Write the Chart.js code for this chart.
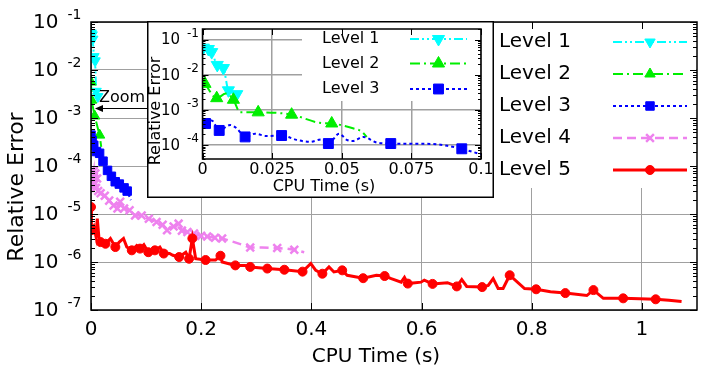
<!DOCTYPE html>
<html>
<head>
<meta charset="utf-8">
<script src="https://cdn.jsdelivr.net/npm/chart.js@4/dist/chart.umd.min.js"></script>
<style>
  html, body { margin: 0; padding: 0; background: #fff; }
  #wrap { position: relative; width: 705px; height: 376px; overflow: hidden; }
  #main { position: absolute; left: 0; top: 0; }
  #zoom { position: absolute; left: 147px; top: 21px; }
</style>
</head>
<body>
<div id="wrap">
  <canvas id="main" width="705" height="376" style="width:705px;height:376px"></canvas>
  <canvas id="zoom" width="347" height="177" style="width:347px;height:177px"></canvas>
</div>
<script>
// ---------- axes ----------
const xTickValues = [0, 0.2, 0.4, 0.6, 0.8, 1];
const xTickLabels = ['0', '0.2', '0.4', '0.6', '0.8', '1'];
const yTickExponents = [-7, -6, -5, -4, -3, -2, -1];
const zoomXTickValues = [0, 0.025, 0.05, 0.075, 0.1];
const zoomXTickLabels = ['0', '0.025', '0.05', '0.075', '0.1'];
const zoomYTickExponents = [-4, -3, -2, -1];
const seriesNames = ['Level 1', 'Level 2', 'Level 3', 'Level 4', 'Level 5'];

// ---------- series (CPU time in s, relative error) ----------
const level1Time = [0.0003, 0.0021, 0.0033, 0.0053, 0.0075, 0.0093, 0.0123];
const level1Err  = [0.059, 0.054, 0.044, 0.019, 0.0155, 0.0036, 0.0028];

const level2Time = [0.0, 0.001, 0.0066, 0.0156, 0.0186];
const level2Err  = [5.6e-3, 2.35e-3, 1.1e-3, 4.4e-4, 2.5e-4];
const level2Symbols = [0, 1, 2, 3];

const level3Time = [0.0, 0.002, 0.005, 0.010, 0.0156, 0.0218, 0.030, 0.037, 0.044, 0.0514, 0.060, 0.0657, 0.0723];
const level3Err  = [4.4e-4, 3.4e-4, 2.7e-4, 2.0e-4, 1.84e-4, 1.26e-4, 8.1e-5, 6.1e-5, 4.7e-5, 4.2e-5, 3.5e-5, 3.0e-5, 1.95e-5];
const level3Symbols = [0, 1, 2, 3, 4, 5, 6, 7, 8, 9, 10, 11];

const level4Time = [0.000, 0.003, 0.005, 0.006, 0.008, 0.009, 0.011, 0.013, 0.0174, 0.025, 0.033, 0.041, 0.048, 0.053, 0.060, 0.070, 0.080, 0.092, 0.105, 0.119, 0.130, 0.138, 0.150, 0.159, 0.165, 0.175, 0.187, 0.200, 0.211, 0.225, 0.238, 0.260, 0.289, 0.310, 0.338, 0.355, 0.369, 0.387];
const level4Err  = [3.8e-5, 6.0e-5, 8.0e-5, 4.5e-5, 7.0e-5, 3.5e-5, 5.5e-5, 3.0e-5, 2.7e-5, 2.4e-5, 1.9e-5, 1.5e-5, 1.3e-5, 1.8e-5, 1.3e-5, 1.2e-5, 9.3e-6, 9.3e-6, 8.0e-6, 6.8e-6, 6.0e-6, 4.6e-6, 5.5e-6, 6.3e-6, 4.5e-6, 4.2e-6, 3.9e-6, 3.5e-6, 3.4e-6, 3.2e-6, 3.1e-6, 2.6e-6, 2.0e-6, 2.0e-6, 1.95e-6, 1.9e-6, 1.8e-6, 1.6e-6];
const level4Symbols = [0, 1, 2, 3, 4, 5, 6, 7, 8, 9, 10, 11, 12, 13, 14, 15, 16, 17, 18, 19, 20, 21, 22, 23, 24, 25, 26, 27, 28, 29, 30, 32, 34, 36];

const level5Time = [0.000, 0.0008, 0.005, 0.009, 0.0114, 0.0143, 0.0174, 0.0263, 0.0352, 0.0442, 0.0513, 0.059, 0.065, 0.074, 0.083, 0.089, 0.096, 0.104, 0.116, 0.125, 0.132, 0.1426, 0.1485, 0.160, 0.172, 0.178, 0.184, 0.190, 0.208, 0.226, 0.235, 0.238, 0.262, 0.280, 0.289, 0.320, 0.351, 0.384, 0.399, 0.408, 0.420, 0.432, 0.441, 0.456, 0.465, 0.494, 0.518, 0.533, 0.545, 0.563, 0.569, 0.575, 0.599, 0.605, 0.620, 0.647, 0.664, 0.673, 0.682, 0.710, 0.721, 0.730, 0.739, 0.748, 0.760, 0.787, 0.808, 0.834, 0.861, 0.900, 0.912, 0.930, 0.966, 1.025, 1.049, 1.072];
const level5Err  = [1.4e-5, 4.6e-6, 5.5e-6, 3.4e-6, 8.0e-6, 3.3e-6, 2.6e-6, 2.4e-6, 3.1e-6, 2.05e-6, 2.6e-6, 3.1e-6, 2.05e-6, 1.75e-6, 2.2e-6, 1.9e-6, 2.3e-6, 1.6e-6, 1.75e-6, 2.05e-6, 1.5e-6, 1.5e-6, 1.38e-6, 1.27e-6, 1.6e-6, 1.17e-6, 3.1e-6, 1.17e-6, 1.1e-6, 1.1e-6, 1.35e-6, 1.0e-6, 8.5e-7, 8.5e-7, 7.9e-7, 7.3e-7, 6.9e-7, 6.3e-7, 9.3e-7, 6.7e-7, 5.7e-7, 7.9e-7, 6.2e-7, 6.7e-7, 5.3e-7, 4.6e-7, 5.3e-7, 5.1e-7, 4.5e-7, 3.8e-7, 4.8e-7, 3.55e-7, 3.8e-7, 4.2e-7, 3.5e-7, 3.7e-7, 3.1e-7, 4.3e-7, 3.1e-7, 3.0e-7, 3.25e-7, 4.5e-7, 2.8e-7, 2.8e-7, 5.3e-7, 2.8e-7, 2.7e-7, 2.4e-7, 2.25e-7, 2.0e-7, 2.6e-7, 1.75e-7, 1.75e-7, 1.67e-7, 1.6e-7, 1.5e-7];
const level5Symbols = [0, 1, 6, 7, 9, 13, 15, 17, 18, 20, 23, 25, 26, 28, 30, 32, 34, 35, 36, 37, 40, 43, 45, 47, 51, 54, 56, 59, 64, 66, 68, 70, 72, 73];

// first 0.1 s, shown in the zoom panel
const zoomLevel2Time = [0.0009, 0.0051, 0.0084, 0.0111, 0.0135, 0.020, 0.032, 0.042, 0.0464, 0.054, 0.057, 0.059];
const zoomLevel2Err  = [5.5e-3, 2.15e-3, 2.9e-3, 1.94e-3, 8.5e-4, 8.5e-4, 7.3e-4, 4.3e-4, 4.1e-4, 3.0e-4, 2.45e-4, 1.7e-4];
const zoomLevel2Symbols = [0, 1, 3, 5, 6, 8];

const zoomLevel3Time = [0.0011, 0.0033, 0.006, 0.0099, 0.0123, 0.0153, 0.0189, 0.023, 0.0284, 0.0338, 0.0386, 0.0428, 0.0452, 0.0491, 0.0518, 0.0541, 0.0577, 0.0625, 0.0676, 0.0829, 0.0889, 0.0931, 0.0972, 0.1005];
const zoomLevel3Err  = [4.1e-4, 5.0e-4, 2.6e-4, 3.7e-4, 3.0e-4, 1.7e-4, 2.1e-4, 1.8e-4, 1.86e-4, 1.4e-4, 1.23e-4, 1.45e-4, 1.1e-4, 2.1e-4, 1.4e-4, 1.3e-4, 1.7e-4, 1.18e-4, 1.1e-4, 1.07e-4, 9.2e-5, 7.8e-5, 6.3e-5, 5.3e-5];
const zoomLevel3Symbols = [0, 2, 5, 8, 12, 18, 21];

// ---------- look ----------
const FONT = '"DejaVu Sans", "Liberation Sans", sans-serif';
const GRID = '#a0a0a0';
const styles = [
  { color: '#00ffff', dash: [9, 3, 2, 3, 2, 3], shape: 'triangle', rotation: 180, width: 2,   radius: 6,   pointBorder: 1 },
  { color: '#00ee00', dash: [10, 4, 2, 4],      shape: 'triangle', rotation: 0,   width: 2,   radius: 6,   pointBorder: 1 },
  { color: '#0000ff', dash: [3, 3],             shape: 'rect',     rotation: 0,   width: 2,   radius: 6,   pointBorder: 1 },
  { color: '#ee82ee', dash: [9, 5],             shape: 'crossRot', rotation: 0,   width: 2.5, radius: 5.5, pointBorder: 2.5 },
  { color: '#ff0000', dash: [],                 shape: 'circle',   rotation: 0,   width: 3,   radius: 4.5, pointBorder: 1 }
];

function points(time, err) { return time.map((t, i) => ({ x: t, y: err[i] })); }

function dataset(level, time, err, symbols, extra) {
  const st = styles[level];
  return Object.assign({
    label: seriesNames[level],
    data: points(time, err),
    order: 5 - level,
    borderColor: st.color,
    backgroundColor: st.color,
    borderWidth: st.width,
    borderDash: st.dash,
    pointStyle: st.shape,
    pointRotation: st.rotation,
    pointRadius: c => (symbols === null || symbols.includes(c.dataIndex)) ? st.radius : 0,
    pointBorderWidth: st.pointBorder,
    pointHoverRadius: 0,
    tension: 0,
    fill: false
  }, extra || {});
}

function drawMarker(ctx, st, x, y, r) {
  ctx.save();
  ctx.setLineDash([]);
  ctx.fillStyle = st.color;
  ctx.strokeStyle = st.color;
  ctx.lineWidth = st.pointBorder;
  ctx.beginPath();
  if (st.shape === 'circle') {
    ctx.arc(x, y, r, 0, Math.PI * 2);
    ctx.fill(); ctx.stroke();
  } else if (st.shape === 'rect') {
    const s = r * Math.SQRT1_2;
    ctx.rect(x - s, y - s, 2 * s, 2 * s);
    ctx.fill(); ctx.stroke();
  } else if (st.shape === 'triangle') {
    let a = st.rotation * Math.PI / 180;
    for (let k = 0; k < 3; k++) {
      const px = x + Math.sin(a) * r, py = y - Math.cos(a) * r;
      if (k) ctx.lineTo(px, py); else ctx.moveTo(px, py);
      a += 2 * Math.PI / 3;
    }
    ctx.closePath();
    ctx.fill(); ctx.stroke();
  } else if (st.shape === 'crossRot') {
    const d = r * Math.SQRT1_2;
    ctx.moveTo(x - d, y - d); ctx.lineTo(x + d, y + d);
    ctx.moveTo(x + d, y - d); ctx.lineTo(x - d, y + d);
    ctx.stroke();
  }
  ctx.restore();
}

function drawKeyEntry(ctx, level, textX, x0, x1, y, fontPx, r) {
  const st = styles[level];
  ctx.save();
  ctx.fillStyle = '#000';
  ctx.font = fontPx + 'px ' + FONT;
  ctx.textAlign = 'left';
  ctx.textBaseline = 'middle';
  ctx.fillText(seriesNames[level], textX, y);
  ctx.strokeStyle = st.color;
  ctx.lineWidth = st.width;
  ctx.setLineDash(st.dash);
  ctx.beginPath(); ctx.moveTo(x0, y); ctx.lineTo(x1, y); ctx.stroke();
  ctx.restore();
  drawMarker(ctx, st, (x0 + x1) / 2, y, r);
}

function powerLabel(ctx, x, y, exp, bigPx, smallPx, gap, lift) {
  ctx.save();
  ctx.fillStyle = '#000';
  ctx.textBaseline = 'middle';
  ctx.font = bigPx + 'px ' + FONT;
  ctx.textAlign = 'right';
  ctx.fillText('10', x, y);
  ctx.font = smallPx + 'px ' + FONT;
  ctx.textAlign = 'left';
  ctx.fillText(String(exp), x + gap, y - lift);
  ctx.restore();
}

function frameAndTicks(ctx, a, xs, ys, xVals, yExps, majorLen, minorLen) {
  ctx.save();
  ctx.strokeStyle = '#000';
  ctx.lineWidth = 1;
  ctx.beginPath();
  xVals.forEach(v => {
    const px = Math.round(xs.getPixelForValue(v)) + 0.5;
    ctx.moveTo(px, a.bottom); ctx.lineTo(px, a.bottom - majorLen);
    ctx.moveTo(px, a.top); ctx.lineTo(px, a.top + majorLen);
  });
  yExps.forEach(e => {
    for (let k = 1; k <= 9; k++) {
      const v = k * Math.pow(10, e);
      if (v < ys.min * 0.999 || v > ys.max * 1.001) continue;
      const py = Math.round(ys.getPixelForValue(v)) + 0.5;
      const len = k === 1 ? majorLen : minorLen;
      ctx.moveTo(a.left, py); ctx.lineTo(a.left + len, py);
      ctx.moveTo(a.right, py); ctx.lineTo(a.right - len, py);
    }
  });
  ctx.stroke();
  ctx.lineWidth = 1.5;
  ctx.strokeRect(a.left, a.top, a.right - a.left, a.bottom - a.top);
  ctx.restore();
}

// ---------- full run ----------
const mainDecor = {
  id: 'mainDecor',
  afterDatasetsDraw(chart) {
    const { ctx, chartArea: a, scales: { x, y } } = chart;
    // key, on an opaque box
    ctx.save();
    ctx.fillStyle = '#fff';
    ctx.fillRect(494, a.top + 1, a.right - 495, 187 - a.top);
    ctx.restore();
    const keyY = [42, 74, 106, 138, 170];
    keyY.forEach((ky, i) => drawKeyEntry(ctx, i, 499, 613, 687, ky, 20, styles[i].radius));
    frameAndTicks(ctx, a, x, y, xTickValues, [-7, -6, -5, -4, -3, -2, -1], 7, 4);
  },
  afterDraw(chart) {
    const { ctx, chartArea: a, scales: { x, y } } = chart;
    ctx.save();
    yTickExponents.forEach(e => powerLabel(ctx, a.left - 32.5, y.getPixelForValue(Math.pow(10, e)) + 1, e, 20, 14, 9, 8));
    ctx.fillStyle = '#000';
    ctx.font = '20px ' + FONT;
    ctx.textAlign = 'center';
    ctx.textBaseline = 'middle';
    xTickValues.forEach((v, i) => ctx.fillText(xTickLabels[i], x.getPixelForValue(v), 330));
    ctx.fillText('CPU Time (s)', 376, 357);
    ctx.save();
    ctx.font = '22px ' + FONT;
    ctx.translate(17.5, 187);
    ctx.rotate(-Math.PI / 2);
    ctx.fillText('Relative Error', 0, 0);
    ctx.restore();
    // pointer to the zoomed panel
    ctx.font = '16px ' + FONT;
    ctx.textAlign = 'left';
    ctx.fillText('Zoom', 99, 98);
    ctx.strokeStyle = '#000';
    ctx.lineWidth = 1.2;
    ctx.beginPath(); ctx.moveTo(148, 108.5); ctx.lineTo(100, 108.5); ctx.stroke();
    ctx.beginPath(); ctx.moveTo(95, 108.5); ctx.lineTo(103, 105); ctx.lineTo(103, 112); ctx.closePath(); ctx.fill();
    ctx.restore();
  }
};

new Chart(document.getElementById('main'), {
  type: 'line',
  data: {
    datasets: [
      dataset(0, level1Time, level1Err, null),
      dataset(1, level2Time, level2Err, level2Symbols),
      dataset(2, level3Time, level3Err, level3Symbols),
      dataset(3, level4Time, level4Err, level4Symbols),
      dataset(4, level5Time, level5Err, level5Symbols)
    ]
  },
  options: {
    responsive: false,
    animation: false,
    events: [],
    layout: { padding: { left: 91, right: 1, top: 22, bottom: 66 } },
    plugins: { legend: { display: false }, tooltip: { enabled: false } },
    scales: {
      x: {
        type: 'linear', min: 0, max: 1.1,
        afterBuildTicks: s => { s.ticks = xTickValues.map(v => ({ value: v })); },
        ticks: { display: false },
        grid: { color: GRID, lineWidth: 1, drawTicks: false },
        border: { display: false }
      },
      y: {
        type: 'logarithmic', min: 1e-7, max: 1e-1,
        afterBuildTicks: s => { s.ticks = yTickExponents.map(e => ({ value: Math.pow(10, e) })); },
        ticks: { display: false },
        grid: { color: GRID, lineWidth: 1, drawTicks: false },
        border: { display: false }
      }
    }
  },
  plugins: [mainDecor]
});

// ---------- zoom panel ----------
const zoomDecor = {
  id: 'zoomDecor',
  beforeDraw(chart) {
    const { ctx, width, height } = chart;
    ctx.save();
    ctx.fillStyle = '#fff';
    ctx.fillRect(0, 0, width, height);
    ctx.restore();
  },
  afterDatasetsDraw(chart) {
    const { ctx, chartArea: a, scales: { x, y } } = chart;
    ctx.save();
    ctx.fillStyle = '#fff';
    ctx.fillRect(155, a.top + 1, a.right - 156, 79 - a.top);
    ctx.restore();
    const keyY = [18, 42.5, 68];
    keyY.forEach((ky, i) => drawKeyEntry(ctx, i, 175, 263, 320, ky, 16, 7));
    frameAndTicks(ctx, a, x, y, zoomXTickValues, [-5, -4, -3, -2, -1], 6, 3);
  },
  afterDraw(chart) {
    const { ctx, chartArea: a, scales: { x, y }, width, height } = chart;
    ctx.save();
    zoomYTickExponents.forEach(e => powerLabel(ctx, 33, y.getPixelForValue(Math.pow(10, e)) + 1, e, 15, 12, 7, 7));
    ctx.fillStyle = '#000';
    ctx.font = '16px ' + FONT;
    ctx.textAlign = 'center';
    ctx.textBaseline = 'middle';
    zoomXTickValues.forEach((v, i) => ctx.fillText(zoomXTickLabels[i], x.getPixelForValue(v), 149));
    ctx.fillText('CPU Time (s)', 177, 166);
    ctx.save();
    ctx.translate(9, 90);
    ctx.rotate(-Math.PI / 2);
    ctx.fillText('Relative Error', 0, 0);
    ctx.restore();
    ctx.strokeStyle = '#000';
    ctx.lineWidth = 1.5;
    ctx.strokeRect(0.75, 0.75, width - 1.5, height - 1.5);
    ctx.restore();
  }
};

const smooth = { cubicInterpolationMode: 'monotone', borderWidth: 2 };
new Chart(document.getElementById('zoom'), {
  type: 'line',
  data: {
    datasets: [
      dataset(0, level1Time, level1Err, null, Object.assign({ pointRadius: 7 }, smooth)),
      dataset(1, zoomLevel2Time, zoomLevel2Err, zoomLevel2Symbols, Object.assign({ pointRadius: c => zoomLevel2Symbols.includes(c.dataIndex) ? 7 : 0 }, smooth)),
      dataset(2, zoomLevel3Time, zoomLevel3Err, zoomLevel3Symbols, Object.assign({ pointRadius: c => zoomLevel3Symbols.includes(c.dataIndex) ? 7 : 0 }, smooth))
    ]
  },
  options: {
    responsive: false,
    animation: false,
    events: [],
    layout: { padding: { left: 55.5, right: 13, top: 1.7, bottom: 39 } },
    plugins: { legend: { display: false }, tooltip: { enabled: false } },
    scales: {
      x: {
        type: 'linear', min: 0, max: 0.1,
        afterBuildTicks: s => { s.ticks = zoomXTickValues.map(v => ({ value: v })); },
        ticks: { display: false },
        grid: { color: GRID, lineWidth: 1.5, drawTicks: false },
        border: { display: false }
      },
      y: {
        type: 'logarithmic', min: 4e-5, max: 0.2,
        afterBuildTicks: s => { s.ticks = zoomYTickExponents.map(e => ({ value: Math.pow(10, e) })); },
        ticks: { display: false },
        grid: { color: GRID, lineWidth: 1.5, drawTicks: false },
        border: { display: false }
      }
    }
  },
  plugins: [zoomDecor]
});
</script>
</body>
</html>
